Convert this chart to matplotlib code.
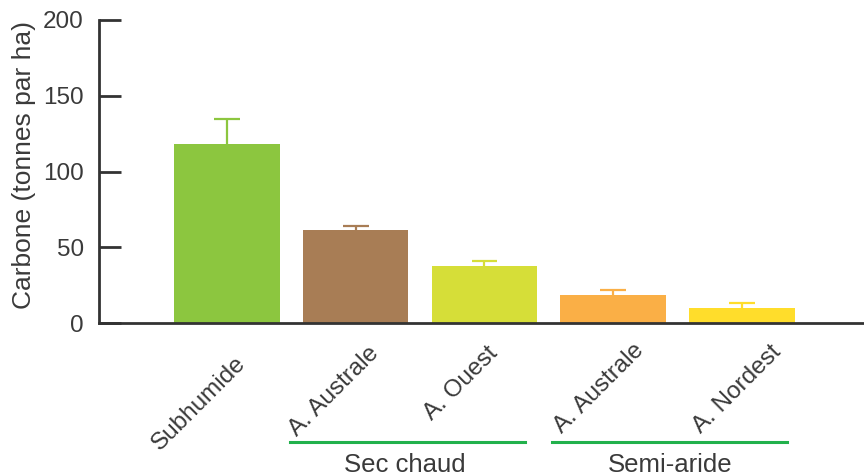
import matplotlib.pyplot as plt

plt.rcParams['font.family'] = ['Liberation Sans', 'DejaVu Sans']

# carbon stock per zone (t/ha) and upper error
categories = ['Subhumide', 'A. Australe', 'A. Ouest', 'A. Australe', 'A. Nordest']
values = [118.2, 61.4, 37.6, 18.5, 10.1]
errors = [16.2, 2.3, 3.3, 3.1, 3.3]
colors = ['#8cc63f', '#a87d55', '#d6de38', '#faaf46', '#ffdd2b']
groups = ['Sec chaud', 'Semi-aride']
yticks = [0, 50, 100, 150, 200]

fig = plt.figure(figsize=(8.64, 4.76), dpi=100)
ax = fig.add_axes([99 / 864, 1 - 323 / 476, 1 - 99 / 864, (323 - 20) / 476])

x = list(range(len(values)))
tops = [v + e for v, e in zip(values, errors)]
ax.bar(x, values, width=0.82, color=colors, zorder=2)
# upper error bars only
ax.vlines(x, values, tops, colors=colors, linewidth=1.6, zorder=1)
ax.hlines(tops, [i - 0.1 for i in x], [i + 0.1 for i in x], colors=colors,
          linewidth=1.6, zorder=1)

ax.set_xlim(-0.995, 4.95)
ax.set_ylim(0, 200)
ax.set_yticks(yticks)
ax.set_xticks([])
ax.spines['top'].set_visible(False)
ax.spines['right'].set_visible(False)
for s in ['left', 'bottom']:
    ax.spines[s].set_color('#333333')
    ax.spines[s].set_linewidth(2)
ax.tick_params(axis='y', direction='in', length=16, width=2, color='#333333',
               labelsize=17.5, labelcolor='#3a3a3a', pad=11)
ax.set_ylabel('Carbone (tonnes par ha)', fontsize=19, color='#3a3a3a')
ax.yaxis.set_label_coords(-0.083, 0.52)

# rotated category labels (top-right corner positions in pixels)
label_px = [(250, 352), (383, 342), (502, 342), (648, 339), (785, 341)]
for name, (px, py) in zip(categories, label_px):
    fig.text(px / 864, 1 - py / 476, name, rotation=45, ha='right', va='top',
             fontsize=17.5, color='#3a3a3a')

# group brackets under the labels
group_px = [(290, 525), (552, 787)]
group_text_x = [405, 670]
for name, (x0, x1), tx in zip(groups, group_px, group_text_x):
    fig.add_artist(plt.Line2D([x0 / 864, x1 / 864], [1 - 442 / 476] * 2,
                              color='#22b14c', linewidth=2.2))
    fig.text(tx / 864, 1 - 465 / 476, name, ha='center', va='center',
             fontsize=18.5, color='#3a3a3a')

fig.savefig('out.png', dpi=100)
